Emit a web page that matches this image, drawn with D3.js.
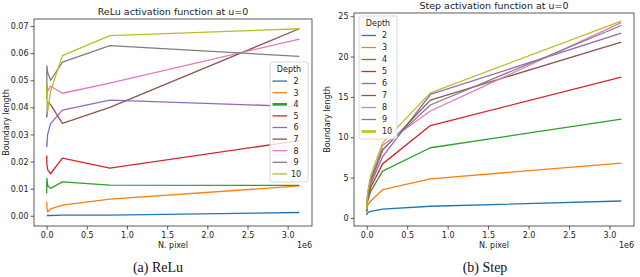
<!DOCTYPE html>
<html>
<head>
<meta charset="utf-8">
<script src="https://cdn.jsdelivr.net/npm/d3@7"></script>
<style>
  body { margin: 0; background: #fff; }
  svg text { font-family: "DejaVu Sans", sans-serif; fill: #222; }
  .caption { font-family: "Liberation Serif", "DejaVu Serif", serif; font-size: 14px; fill: #111; }
</style>
</head>
<body>
<svg id="chart" width="640" height="277"></svg>
<script>
// Datos
const nPixel = [768, 3072, 12288, 49152, 196608, 786432, 3145728];
const depths = [2, 3, 4, 5, 6, 7, 8, 9, 10];
const xTicks = [0, 0.5e6, 1e6, 1.5e6, 2e6, 2.5e6, 3e6];
const reluTicks = [0, 0.01, 0.02, 0.03, 0.04, 0.05, 0.06, 0.07];
const stepTicks = [0, 5, 10, 15, 20, 25];

// ReLu: una lista por profundidad
const reluLengths = [
  [0.0001, 0.0001, 0.0001, 0.0001, 0.0002, 0.0002, 0.0012],
  [0.0052, 0.0030, 0.0014, 0.0025, 0.0039, 0.0061, 0.0110],
  [0.0082, 0.0138, 0.0112, 0.0101, 0.0125, 0.0113, 0.0112],
  [0.0222, 0.0190, 0.0170, 0.0155, 0.0213, 0.0176, 0.0277],
  [0.0270, 0.0255, 0.0300, 0.0340, 0.0390, 0.0427, 0.0403],
  [0.0372, 0.0365, 0.0420, 0.0410, 0.0341, 0.0400, 0.0690],
  [0.0430, 0.0490, 0.0460, 0.0478, 0.0452, 0.0489, 0.0652],
  [0.0430, 0.0553, 0.0530, 0.0500, 0.0567, 0.0628, 0.0588],
  [0.0492, 0.0440, 0.0385, 0.0460, 0.0591, 0.0665, 0.0690]
];

// Step: una lista por profundidad
const stepLengths = [
  [0.35, 0.5, 0.65, 0.8, 1.08, 1.45, 2.1],
  [0.7, 1.1, 1.6, 2.1, 3.5, 4.85, 6.8],
  [0.8, 1.3, 2.1, 3.3, 5.8, 8.7, 12.25],
  [0.9, 1.5, 2.5, 3.8, 6.7, 11.45, 17.45],
  [1.0, 1.6, 2.7, 4.2, 7.6, 15.3, 22.9],
  [1.0, 1.7, 2.9, 4.5, 8.4, 14.6, 21.8],
  [1.0, 1.7, 3.0, 4.7, 9.0, 13.25, 24.2],
  [1.0, 1.8, 3.0, 4.8, 8.5, 14.0, 23.85],
  [1.1, 1.9, 3.3, 5.3, 9.3, 15.5, 24.4]
];

const colors = ['#1f77b4', '#ff7f0e', '#2ca02c', '#d62728', '#9467bd',
                '#8c564b', '#e377c2', '#7f7f7f', '#bcbd22'];

let svg = d3.select('#chart');

drawPanel({
  left: 34, right: 312, top: 19, bottom: 226,
  yDomain: [-0.00378, 0.0726], yTicks: reluTicks, yFormat: d3.format('.2f'),
  values: reluLengths,
  title: 'ReLu activation function at u=0', titleY: 14.5,
  yLabelX: 6, caption: '(a) ReLu', captionX: 158,
  legend: {x: 270, y: 62, w: 38, h: 120, step: 11.6, anchor: 'middle', textX: 26, thick: 2}
});

drawPanel({
  left: 354, right: 634, top: 13, bottom: 226,
  yDomain: [-1.0, 25.4], yTicks: stepTicks, yFormat: d3.format('d'),
  values: stepLengths,
  title: 'Step activation function at u=0', titleY: 8.5,
  yLabelX: 327, caption: '(b) Step', captionX: 485,
  legend: {x: 359, y: 16, w: 38, h: 123, step: 12, anchor: 'start', textX: 23, thick: 8}
});

function drawPanel(c) {
  let g = svg.append('g');

  let x = d3.scaleLinear().domain([-157286, 3303014]).range([c.left, c.right]);
  let y = d3.scaleLinear().domain(c.yDomain).range([c.bottom, c.top]);

  //Eje X
  g.append('g')
    .attr('transform', 'translate(0,' + c.bottom + ')')
    .call(d3.axisBottom(x).tickValues(xTicks).tickSize(3.5).tickPadding(2.5)
      .tickFormat(d => (d / 1e6).toFixed(1)))
    .call(a => a.select('.domain').remove())
    .call(a => a.selectAll('text').style('font-size', '8px').style('font-family', '"DejaVu Sans"'))
    .call(a => a.selectAll('line').attr('stroke', '#333').attr('stroke-width', 0.8));

  //Eje Y
  g.append('g')
    .attr('transform', 'translate(' + c.left + ',0)')
    .call(d3.axisLeft(y).tickValues(c.yTicks).tickSize(3.5).tickPadding(2)
      .tickFormat(c.yFormat))
    .call(a => a.select('.domain').remove())
    .call(a => a.selectAll('text').style('font-size', '8px').style('font-family', '"DejaVu Sans"'))
    .call(a => a.selectAll('line').attr('stroke', '#333').attr('stroke-width', 0.8));

  //Líneas
  let line = d3.line()
    .x((d, i) => x(nPixel[i]))
    .y(d => y(d));

  c.values.forEach(function(vals, i) {
    g.append('path')
      .datum(vals)
      .attr('fill', 'none')
      .attr('stroke', colors[i])
      .attr('stroke-width', 1.3)
      .attr('stroke-linejoin', 'round')
      .attr('d', line);
  });

  //Marco
  g.append('rect')
    .attr('x', c.left).attr('y', c.top)
    .attr('width', c.right - c.left).attr('height', c.bottom - c.top)
    .attr('fill', 'none').attr('stroke', '#333').attr('stroke-width', 0.8);

  //Textos
  g.append('text')
    .attr('x', (c.left + c.right) / 2).attr('y', c.titleY)
    .attr('text-anchor', 'middle').style('font-size', '9.5px')
    .text(c.title);

  g.append('text')
    .attr('x', (c.left + c.right) / 2).attr('y', 248)
    .attr('text-anchor', 'middle').style('font-size', '8px')
    .text('N. pixel');

  g.append('text')
    .attr('x', c.right).attr('y', 248)
    .attr('text-anchor', 'end').style('font-size', '8px')
    .text('1e6');

  g.append('text')
    .attr('transform', 'translate(' + c.yLabelX + ',' + ((c.top + c.bottom) / 2) + ') rotate(-90)')
    .attr('text-anchor', 'middle').attr('dy', '0.35em').style('font-size', '8px')
    .text('Boundary length');

  svg.append('text')
    .attr('class', 'caption')
    .attr('x', c.captionX).attr('y', 272)
    .attr('text-anchor', 'middle')
    .text(c.caption);

  //Leyenda
  let L = c.legend;
  let leg = g.append('g').attr('transform', 'translate(' + L.x + ',' + L.y + ')');
  leg.append('rect')
    .attr('width', L.w).attr('height', L.h).attr('rx', 2)
    .attr('fill', 'rgba(255,255,255,0.8)').attr('stroke', '#d0d0d0').attr('stroke-width', 0.8);
  leg.append('text')
    .attr('x', L.w / 2).attr('y', 7.5).attr('dy', '0.35em')
    .attr('text-anchor', 'middle').style('font-size', '8px')
    .text('Depth');

  depths.forEach(function(d, i) {
    let yy = 7.5 + L.step * (i + 1);
    leg.append('line')
      .attr('x1', 2.5).attr('x2', 17)
      .attr('y1', yy).attr('y2', yy)
      .attr('stroke', colors[i])
      .attr('stroke-width', i === L.thick ? 2.6 : 1.3);
    leg.append('text')
      .attr('x', L.anchor === 'middle' ? L.textX : L.textX)
      .attr('y', yy).attr('dy', '0.35em')
      .attr('text-anchor', L.anchor).style('font-size', '8px')
      .text(d);
  });
}
</script>
</body>
</html>
